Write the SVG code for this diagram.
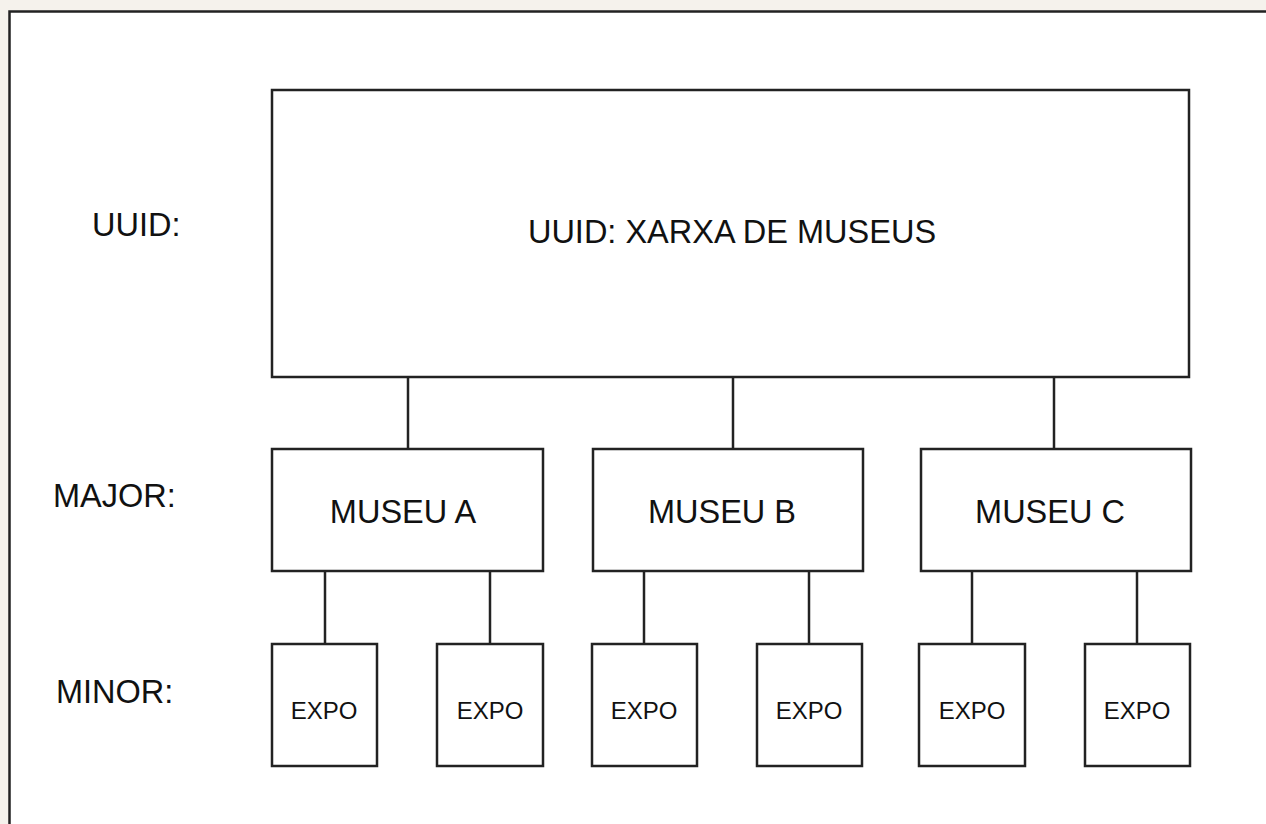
<svg xmlns="http://www.w3.org/2000/svg" width="1266" height="824" viewBox="0 0 1266 824">
<style>
.box{fill:#fff;stroke:#222;stroke-width:2.5}
.ln{stroke:#222;stroke-width:2.5;fill:none}
.t{font-family:"Liberation Sans",Arial,sans-serif;fill:#111}
.big{font-size:32.5px}
.sm{font-size:24px}
</style>
<rect x="0" y="0" width="1266" height="824" fill="#f5f2ec"/>
<rect x="9.5" y="11.5" width="1300" height="850" fill="#fff" stroke="#222" stroke-width="2.5"/>
<g id="labels">
<text class="t big" x="92" y="236">UUID:</text>
<text class="t big" x="53" y="507">MAJOR:</text>
<text class="t big" x="56" y="703">MINOR:</text>
</g>
<g id="connectors">
<line class="ln" x1="408" y1="377" x2="408" y2="449"/>
<line class="ln" x1="733" y1="377" x2="733" y2="449"/>
<line class="ln" x1="1054" y1="377" x2="1054" y2="449"/>
<line class="ln" x1="325" y1="571" x2="325" y2="644"/>
<line class="ln" x1="490" y1="571" x2="490" y2="644"/>
<line class="ln" x1="644" y1="571" x2="644" y2="644"/>
<line class="ln" x1="809" y1="571" x2="809" y2="644"/>
<line class="ln" x1="972" y1="571" x2="972" y2="644"/>
<line class="ln" x1="1137" y1="571" x2="1137" y2="644"/>
</g>
<g id="root">
<rect class="box" x="272" y="90" width="917" height="287"/>
<text class="t big" x="732" y="243" text-anchor="middle">UUID: XARXA DE MUSEUS</text>
</g>
<g id="museuA">
<rect class="box" x="272" y="449" width="271" height="122"/>
<text class="t big" x="403" y="523" text-anchor="middle">MUSEU A</text>
</g>
<g id="museuB">
<rect class="box" x="593" y="449" width="270" height="122"/>
<text class="t big" x="722" y="523" text-anchor="middle">MUSEU B</text>
</g>
<g id="museuC">
<rect class="box" x="921" y="449" width="270" height="122"/>
<text class="t big" x="1050" y="523" text-anchor="middle">MUSEU C</text>
</g>
<g id="expoA1">
<rect class="box" x="272" y="644" width="105" height="122"/>
<text class="t sm" x="324" y="719" text-anchor="middle">EXPO</text>
</g>
<g id="expoA2">
<rect class="box" x="437" y="644" width="106" height="122"/>
<text class="t sm" x="490" y="719" text-anchor="middle">EXPO</text>
</g>
<g id="expoB1">
<rect class="box" x="592" y="644" width="105" height="122"/>
<text class="t sm" x="644" y="719" text-anchor="middle">EXPO</text>
</g>
<g id="expoB2">
<rect class="box" x="757" y="644" width="105" height="122"/>
<text class="t sm" x="809" y="719" text-anchor="middle">EXPO</text>
</g>
<g id="expoC1">
<rect class="box" x="919" y="644" width="106" height="122"/>
<text class="t sm" x="972" y="719" text-anchor="middle">EXPO</text>
</g>
<g id="expoC2">
<rect class="box" x="1085" y="644" width="105" height="122"/>
<text class="t sm" x="1137" y="719" text-anchor="middle">EXPO</text>
</g>
</svg>
